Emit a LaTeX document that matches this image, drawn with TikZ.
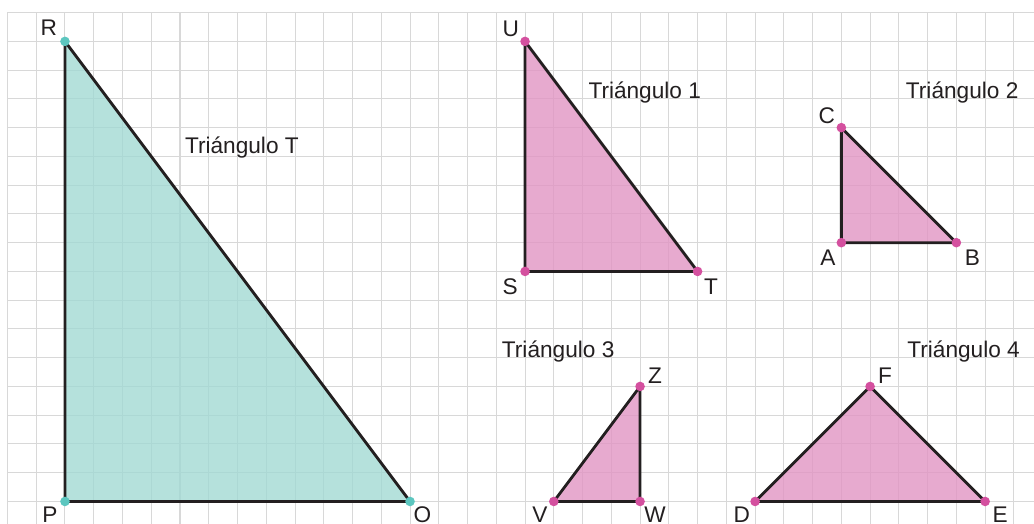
\documentclass[tikz,border=0pt]{standalone}
\usepackage{fontspec}
\setmainfont{Liberation Sans}
\usetikzlibrary{calc}
\definecolor{luoi}{HTML}{D8D8D8}
\definecolor{netden}{HTML}{231F20}
\definecolor{xanh}{HTML}{A2D9D3}
\definecolor{xanhdam}{HTML}{5CC6BF}
\definecolor{hong}{HTML}{E195C3}
\definecolor{hongdam}{HTML}{D4509F}

\begin{document}
\begin{tikzpicture}[font=\fontsize{22.4}{27}\selectfont,text=netden,
	canh/.style={line width=2.8pt,draw=netden,line join=round},
	diem/.style={circle,fill=#1,inner sep=0pt,minimum size=9.5pt},
	ten/.style={inner sep=0pt}]
	\useasboundingbox (-2.26,-0.78) rectangle (33.70,17.44);
	\draw[luoi,line width=1pt] (-2,-0.78) grid (33.70,17);
	\foreach \x/\y/\gt in {0/0/P,12/0/O,0/16/R,16/8/S,22/8/T,16/16/U,27/9/A,31/9/B,27/13/C,17/0/V,20/0/W,20/4/Z,24/0/D,32/0/E,28/4/F}\path (\x,\y) coordinate(\gt);
	\filldraw[canh,fill=xanh,fill opacity=.8] (P)--(O)--(R)--cycle;
	\foreach \a/\b/\c in {S/T/U,A/B/C,V/W/Z,D/E/F}\filldraw[canh,fill=hong,fill opacity=.8] (\a)--(\b)--(\c)--cycle;
	\foreach \v in {P,O,R}\node[diem=xanhdam] (d\v) at (\v){};
	\foreach \v in {S,T,U,A,B,C,V,W,Z,D,E,F}\node[diem=hongdam] (d\v) at (\v){};
	\foreach \v/\dx/\dy in {P/-.52/-.47,O/.43/-.47,R/-.56/.46,U/-.5/.44,S/-.52/-.53,T/.47/-.53,C/-.51/.41,A/-.47/-.54,B/.56/-.54,Z/.52/.37,V/-.48/-.47,W/.52/-.47,F/.52/.37,D/-.46/-.47,E/.52/-.47}\path ($(\v)+(\dx,\dy)$) node[ten](l\v){\v};
	\foreach \x/\y/\gt[count=\i] in {4.17/12.1/T,18.2/14/1,29.24/14/2,15.19/5/3,29.29/5/4}\path (\x,\y) node[ten,anchor=base west](tg\i){Triángulo \gt};
\end{tikzpicture}
\end{document}
